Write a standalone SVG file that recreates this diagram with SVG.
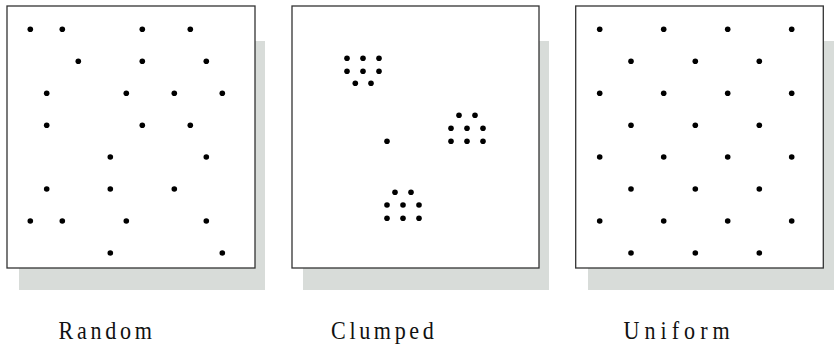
<svg xmlns="http://www.w3.org/2000/svg" width="834" height="347" viewBox="0 0 834 347">
<style>
.shadow{fill:#d8dcd9}
.box{fill:#ffffff;stroke:#333333;stroke-width:1.3}
.dot{fill:#000000}
.lbl{font-family:"Liberation Serif","Times New Roman",serif;font-size:26px;fill:#111111}
</style>
<defs>
<circle id="d" r="2.8" class="dot"/>
</defs>
<g id="random">
<rect class="shadow" x="19" y="41" width="246" height="249"/>
<rect class="box" x="7" y="6" width="248" height="262"/>
<g>
<use href="#d" x="30.3" y="29.3"/><use href="#d" x="62.3" y="29.3"/><use href="#d" x="142.3" y="29.3"/><use href="#d" x="190.3" y="29.3"/>
<use href="#d" x="78.3" y="61.3"/><use href="#d" x="142.3" y="61.3"/><use href="#d" x="206.3" y="61.3"/>
<use href="#d" x="46.7" y="93.3"/><use href="#d" x="126.3" y="93.3"/><use href="#d" x="174.3" y="93.3"/><use href="#d" x="222.3" y="93.3"/>
<use href="#d" x="46.7" y="125.3"/><use href="#d" x="142.3" y="125.3"/><use href="#d" x="190.3" y="125.3"/>
<use href="#d" x="110.3" y="157"/><use href="#d" x="206.3" y="157"/>
<use href="#d" x="46.7" y="189"/><use href="#d" x="110.3" y="189"/><use href="#d" x="174.3" y="189"/>
<use href="#d" x="30.3" y="221"/><use href="#d" x="62.3" y="221"/><use href="#d" x="126.3" y="221"/><use href="#d" x="206.3" y="221"/>
<use href="#d" x="110.3" y="253"/><use href="#d" x="222.3" y="253"/>
</g>
<text class="lbl" transform="translate(58.5,339) scale(0.85,1)" x="0" y="0" textLength="110" lengthAdjust="spacing">Random</text>
</g>
<g id="clumped">
<rect class="shadow" x="303" y="41" width="246" height="249"/>
<rect class="box" x="292" y="6" width="247" height="262"/>
<g>
<use href="#d" x="347" y="58.3"/><use href="#d" x="363" y="58.3"/><use href="#d" x="379" y="58.3"/>
<use href="#d" x="347" y="71.3"/><use href="#d" x="363" y="71.3"/><use href="#d" x="379" y="71.3"/>
<use href="#d" x="355.3" y="83.3"/><use href="#d" x="371" y="83.3"/>
<use href="#d" x="387" y="141.3"/>
<use href="#d" x="459" y="115.3"/><use href="#d" x="475" y="115.3"/>
<use href="#d" x="451" y="128.3"/><use href="#d" x="467" y="128.3"/><use href="#d" x="483" y="128.3"/>
<use href="#d" x="451" y="141.3"/><use href="#d" x="467" y="141.3"/><use href="#d" x="483" y="141.3"/>
<use href="#d" x="395" y="192.3"/><use href="#d" x="411" y="192.3"/>
<use href="#d" x="387" y="205"/><use href="#d" x="403" y="205"/><use href="#d" x="419" y="205"/>
<use href="#d" x="387" y="218.3"/><use href="#d" x="403" y="218.3"/><use href="#d" x="419" y="218.3"/>
</g>
<text class="lbl" transform="translate(331,339) scale(0.85,1)" x="0" y="0" textLength="121" lengthAdjust="spacing">Clumped</text>
</g>
<g id="uniform">
<rect class="shadow" x="588" y="41" width="246" height="249"/>
<rect class="box" x="575.7" y="6" width="247.6" height="262"/>
<g>
<use href="#d" x="599.7" y="29.3"/><use href="#d" x="663.7" y="29.3"/><use href="#d" x="727.7" y="29.3"/><use href="#d" x="791.7" y="29.3"/>
<use href="#d" x="631" y="61.3"/><use href="#d" x="695.3" y="61.3"/><use href="#d" x="759.3" y="61.3"/>
<use href="#d" x="599.7" y="93.3"/><use href="#d" x="663.7" y="93.3"/><use href="#d" x="727.7" y="93.3"/><use href="#d" x="791.7" y="93.3"/>
<use href="#d" x="631" y="125.3"/><use href="#d" x="695.3" y="125.3"/><use href="#d" x="759.3" y="125.3"/>
<use href="#d" x="599.7" y="157"/><use href="#d" x="663.7" y="157"/><use href="#d" x="727.7" y="157"/><use href="#d" x="791.7" y="157"/>
<use href="#d" x="631" y="189"/><use href="#d" x="695.3" y="189"/><use href="#d" x="759.3" y="189"/>
<use href="#d" x="599.7" y="221"/><use href="#d" x="663.7" y="221"/><use href="#d" x="727.7" y="221"/><use href="#d" x="791.7" y="221"/>
<use href="#d" x="631" y="253"/><use href="#d" x="695.3" y="253"/><use href="#d" x="759.3" y="253"/>
</g>
<text class="lbl" transform="translate(623.5,339) scale(0.85,1)" x="0" y="0" textLength="125" lengthAdjust="spacing">Uniform</text>
</g>
</svg>
